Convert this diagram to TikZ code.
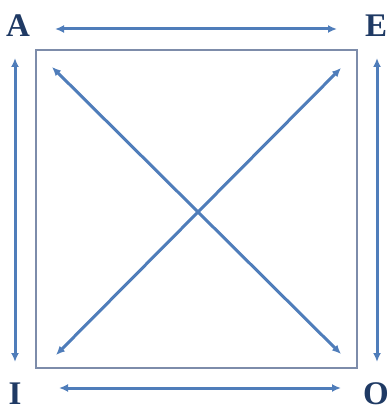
\documentclass[tikz,border=0pt]{standalone}
\usepackage{fontspec}
\setmainfont{Liberation Serif}
\usetikzlibrary{arrows.meta}
\definecolor{arrowblue}{HTML}{4F7DBA}
\definecolor{boxgray}{HTML}{7D8CAA}
\definecolor{letternavy}{HTML}{1F3A64}
\begin{document}
\begin{tikzpicture}[x=1pt,y=-1pt,
  letter/.style={font=\fontsize{33}{33}\selectfont\bfseries, text=letternavy, inner sep=0pt, anchor=base},
  conn/.style={draw=arrowblue, line width=3pt, {Latex[length=9pt,width=8pt]}-{Latex[length=9pt,width=8pt]}}]
\useasboundingbox (0,0) rectangle (390,411);
\node[letter] (A) at (18,37) {A};
\node[letter] (E) at (376,37) {E};
\node[letter] (I) at (15,404) {I};
\node[letter] (O) at (376,404) {O};
\draw[boxgray, line width=1.8pt] (36,50) rectangle (357,368);
\coordinate (t1) at (55,29); \coordinate (t2) at (337,29);
\coordinate (b1) at (59,388); \coordinate (b2) at (341,388);
\coordinate (l1) at (15,58); \coordinate (l2) at (15,362);
\coordinate (r1) at (377,58); \coordinate (r2) at (377,362);
\coordinate (d1) at (52,67); \coordinate (d2) at (341,354);
\coordinate (e1) at (341,68); \coordinate (e2) at (56,355);
\draw[conn] (t1) -- (t2);
\draw[conn] (b1) -- (b2);
\draw[conn] (l1) -- (l2);
\draw[conn] (r1) -- (r2);
\draw[conn] (d1) -- (d2);
\draw[conn] (e1) -- (e2);
\end{tikzpicture}
\end{document}
